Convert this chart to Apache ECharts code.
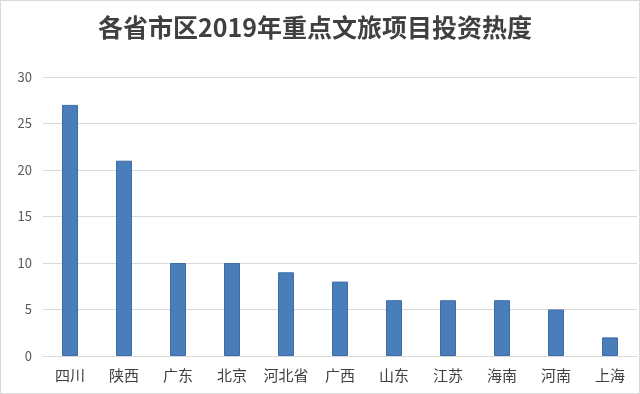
<!DOCTYPE html>
<html><head><meta charset="utf-8">
<script src="https://cdn.jsdelivr.net/npm/echarts@6/dist/echarts.min.js"></script>
<style>html,body{margin:0;padding:0;background:#fff}#c{width:640px;height:394px;box-sizing:border-box;border:1px solid #d9d9d9}</style>
</head><body><div id="c"></div>
<script>
const title = '各省市区2019年重点文旅项目投资热度';
const categories = ['四川','陕西','广东','北京','河北省','广西','山东','江苏','海南','河南','上海'];
const values = [27,21,10,10,9,8,6,6,6,5,2];
const chart = echarts.init(document.getElementById('c'));
chart.setOption({
  animation:false,
  title:{text:title,left:92,top:9,textStyle:{fontFamily:'Noto Sans CJK SC',fontSize:25,fontWeight:'bold',color:'#404040'}},
  grid:{left:42,right:2,top:76,bottom:37},
  xAxis:{type:'category',data:categories,axisTick:{show:false},
    axisLine:{lineStyle:{color:'#d9d9d9'}},
    axisLabel:{interval:0,fontFamily:'Noto Sans CJK SC',fontSize:15,color:'#404040',margin:12}},
  yAxis:{type:'value',min:0,max:30,interval:5,
    axisLabel:{fontFamily:'Noto Sans CJK SC',fontSize:13,color:'#595959',margin:11},
    splitLine:{lineStyle:{color:'#d9d9d9'}}},
  series:[{type:'bar',data:values,barWidth:16,itemStyle:{color:'#4a7ebb',borderColor:'#3d6ca6',borderWidth:1}}]
});
</script></body></html>
